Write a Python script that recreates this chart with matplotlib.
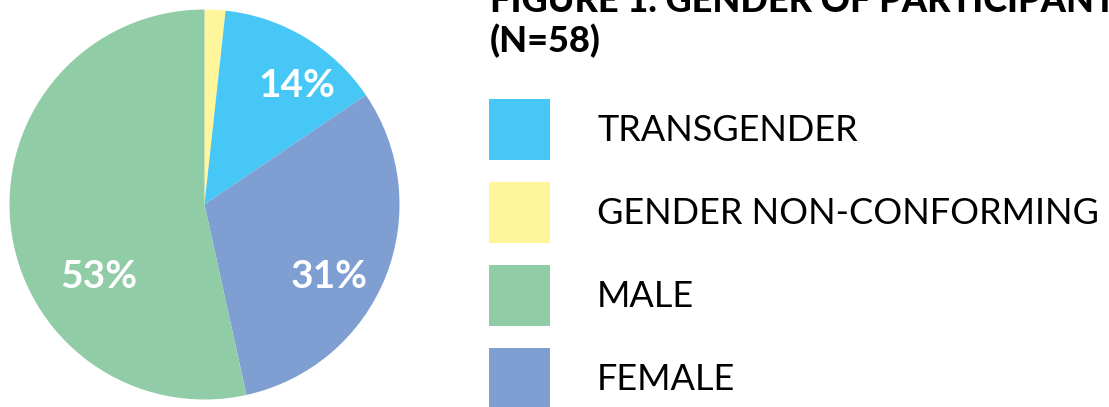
import matplotlib
matplotlib.use("Agg")
import matplotlib.pyplot as plt

# legend order
categories = ["TRANSGENDER", "GENDER NON-CONFORMING", "MALE", "FEMALE"]
counts = [8, 1, 31, 18]
colors = ["#46C7F5", "#FFF59B", "#90CCA5", "#7F9FD2"]
# order of slices clockwise from 12 o'clock
pie_order = [1, 0, 3, 2]
title_line1 = "FIGURE 1. GENDER OF PARTICIPANTS"
title_line2 = "(N=58)"

# where the percent labels sit (axes fraction), no label for the tiny slice
label_pos = {0: (0.737, 0.805), 2: (0.23, 0.315), 3: (0.82, 0.315)}

plt.rcParams["font.family"] = ["Lato", "DejaVu Sans"]

W, H = 1109, 407
fig = plt.figure(figsize=(W / 100, H / 100), dpi=100)

ax = fig.add_axes([9.5 / W, 7.5 / H, 390 / W, 390 / H])
wedges, _ = ax.pie([counts[i] for i in pie_order],
                   colors=[colors[i] for i in pie_order],
                   startangle=90, counterclock=False, radius=1,
                   wedgeprops=dict(linewidth=0))
ax.set_xlim(-1, 1)
ax.set_ylim(-1, 1)

total = sum(counts)
for i, (x, y) in label_pos.items():
    pct = round(100 * counts[i] / total)
    ax.text(x, y, f"{pct}%", transform=ax.transAxes, ha="center", va="center",
            color="white", fontsize=28, fontweight="bold")

handles = [wedges[pie_order.index(i)] for i in range(len(categories))]
fs = 26
px = fs * 100 / 72
# legend patch height = fs*(0.65*hh + 0.245)
hh = (61 / px - 0.245) / 0.65
fig.legend(handles, categories, loc="upper left",
           bbox_to_anchor=(489 / W, 1 - 99 / H), frameon=False,
           fontsize=fs, handlelength=61 / px, handleheight=hh,
           handletextpad=47 / px, labelspacing=22 / px,
           borderpad=0, borderaxespad=0)

fig.text(490 / W, 1 - 12 / H, title_line1, fontsize=26, fontweight="black",
         va="baseline", ha="left")
fig.text(490 / W, 1 - 52 / H, title_line2, fontsize=26, fontweight="black",
         va="baseline", ha="left")

fig.savefig("out.png", dpi=100)
